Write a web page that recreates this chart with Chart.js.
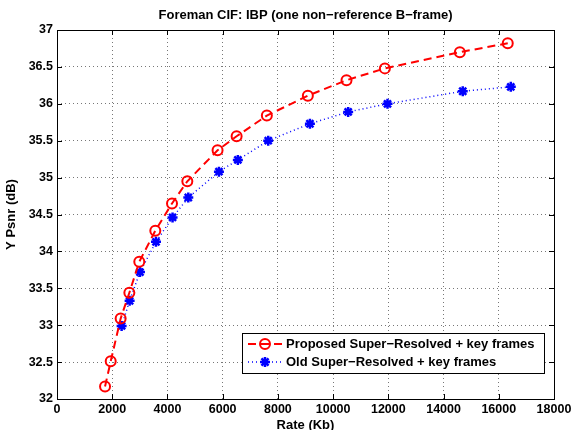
<!DOCTYPE html>
<html>
<head>
<meta charset="utf-8">
<script src="https://cdn.jsdelivr.net/npm/chart.js@4"></script>
<style>
  html, body { margin: 0; padding: 0; background: #fff; }
  #wrap { width: 575px; height: 430px; }
</style>
</head>
<body>
<div id="wrap"><canvas id="plot" width="575" height="430"></canvas></div>
<script>
// rate (Kb) and Y psnr (dB)
const propRate = [1740, 1945, 2305, 2620, 2980, 3560, 4165, 4720, 5815, 6505, 7600, 9085, 10485, 11875, 14590, 16325];
const propPsnr = [32.17, 32.51, 33.09, 33.44, 33.86, 34.28, 34.65, 34.95, 35.37, 35.56, 35.84, 36.11, 36.32, 36.48, 36.70, 36.82];

const oldRate = [2340, 2630, 3005, 3585, 4185, 4755, 5865, 6550, 7650, 9160, 10545, 11970, 14695, 16435];
const oldPsnr = [32.99, 33.33, 33.72, 34.13, 34.46, 34.73, 35.08, 35.24, 35.50, 35.73, 35.89, 36.00, 36.17, 36.23];

const titleText = "Foreman CIF: IBP (one non\u2212reference B\u2212frame)";
const xTitle = "Rate (Kb)";
const yTitle = "Y Psnr (dB)";
const seriesNames = ["Proposed Super\u2212Resolved + key frames", "Old Super\u2212Resolved + key frames"];

const FONT = "'Liberation Sans', Arial, Helvetica, sans-serif";

function pts(xs, ys) {
    return xs.map((x, i) => ({ x: x, y: ys[i] }));
}

// matlab look: box, inward ticks, titles and the legend are drawn here
const matlabFrame = {
    id: "matlabFrame",
    afterDraw(chart) {
        const ctx = chart.ctx;
        const a = chart.chartArea;
        const xs = chart.scales.x, ys = chart.scales.y;
        ctx.save();

        // box
        ctx.strokeStyle = "#000";
        ctx.lineWidth = 1;
        ctx.setLineDash([]);
        ctx.strokeRect(Math.round(a.left) + 0.5, Math.round(a.top) + 0.5,
            Math.round(a.right - a.left), Math.round(a.bottom - a.top));

        // inward ticks
        const tl = 5;
        ctx.beginPath();
        xs.ticks.forEach(t => {
            const px = Math.round(xs.getPixelForValue(t.value)) + 0.5;
            ctx.moveTo(px, a.bottom); ctx.lineTo(px, a.bottom - tl);
            ctx.moveTo(px, a.top); ctx.lineTo(px, a.top + tl);
        });
        ys.ticks.forEach(t => {
            const py = Math.round(ys.getPixelForValue(t.value)) + 0.5;
            ctx.moveTo(a.left, py); ctx.lineTo(a.left + tl, py);
            ctx.moveTo(a.right, py); ctx.lineTo(a.right - tl, py);
        });
        ctx.stroke();

        // titles
        ctx.fillStyle = "#000";
        ctx.font = "bold 13px " + FONT;
        ctx.textAlign = "center";
        ctx.textBaseline = "middle";
        ctx.fillText(titleText, (a.left + a.right) / 2, 15);
        ctx.fillText(xTitle, (a.left + a.right) / 2, 425);
        ctx.save();
        ctx.translate(11, (a.top + a.bottom) / 2);
        ctx.rotate(-Math.PI / 2);
        ctx.fillText(yTitle, 0, 0);
        ctx.restore();

        // legend box
        const lx = 242, ly = 333, lw = 302, lh = 40;
        ctx.fillStyle = "#fff";
        ctx.fillRect(lx, ly, lw, lh);
        ctx.strokeStyle = "#000";
        ctx.lineWidth = 1;
        ctx.strokeRect(lx + 0.5, ly + 0.5, lw, lh);

        const rows = [ly + 11, ly + 29];
        chart.data.datasets.forEach((ds, i) => {
            const yy = rows[i];
            ctx.save();
            ctx.strokeStyle = ds.borderColor;
            ctx.lineWidth = ds.borderWidth;
            ctx.setLineDash(ds.borderDash);
            ctx.beginPath();
            ctx.moveTo(lx + 6, yy); ctx.lineTo(lx + 40, yy);
            ctx.stroke();
            ctx.setLineDash([]);
            ctx.strokeStyle = ds.pointBorderColor;
            ctx.fillStyle = ds.pointBackgroundColor;
            ctx.lineWidth = ds.pointBorderWidth;
            Chart.helpers.drawPoint(ctx, {
                pointStyle: ds.pointStyle,
                radius: ds.pointRadius,
                borderWidth: ds.pointBorderWidth,
                rotation: 0
            }, lx + 23, yy);
            ctx.restore();
            ctx.fillStyle = "#000";
            ctx.textAlign = "left";
            ctx.fillText(ds.label, lx + 44, yy);
        });
        ctx.restore();
    }
};

const config = {
    type: "scatter",
    data: {
        datasets: [
            {
                label: seriesNames[0],
                data: pts(propRate, propPsnr),
                showLine: true,
                borderColor: "#ff0000",
                backgroundColor: "rgba(0,0,0,0)",
                borderWidth: 2,
                borderDash: [8, 5],
                pointStyle: "circle",
                pointRadius: 5,
                pointBorderWidth: 2,
                pointBorderColor: "#ff0000",
                pointBackgroundColor: "rgba(0,0,0,0)"
            },
            {
                label: seriesNames[1],
                data: pts(oldRate, oldPsnr),
                showLine: true,
                borderColor: "#0000ff",
                backgroundColor: "#0000ff",
                borderWidth: 1.5,
                borderDash: [1, 3],
                pointStyle: "star",
                pointRadius: 5,
                pointBorderWidth: 2.5,
                pointBorderColor: "#0000ff",
                pointBackgroundColor: "#0000ff"
            }
        ]
    },
    options: {
        responsive: false,
        animation: false,
        layout: { padding: { top: 30, right: 21, left: 0, bottom: 0 } },
        plugins: {
            legend: { display: false },
            title: { display: false },
            tooltip: { enabled: false }
        },
        scales: {
            x: {
                type: "linear",
                min: 0,
                max: 18000,
                ticks: {
                    stepSize: 2000,
                    padding: 3,
                    color: "#000",
                    font: { family: FONT, size: 12.5, weight: "bold" },
                    callback: v => String(v)
                },
                grid: { color: "#777", drawTicks: false, lineWidth: 1 },
                border: { display: false, dash: [1, 3] },
                afterFit: s => { s.height = 31; }
            },
            y: {
                type: "linear",
                min: 32,
                max: 37,
                ticks: {
                    stepSize: 0.5,
                    padding: 4,
                    color: "#000",
                    font: { family: FONT, size: 12.5, weight: "bold" },
                    callback: v => String(v)
                },
                grid: { color: "#777", drawTicks: false, lineWidth: 1 },
                border: { display: false, dash: [1, 3] },
                afterFit: s => { s.width = 57; }
            }
        }
    },
    plugins: [matlabFrame]
};

const chart = new Chart(document.getElementById("plot").getContext("2d"), config);
</script>
</body>
</html>
